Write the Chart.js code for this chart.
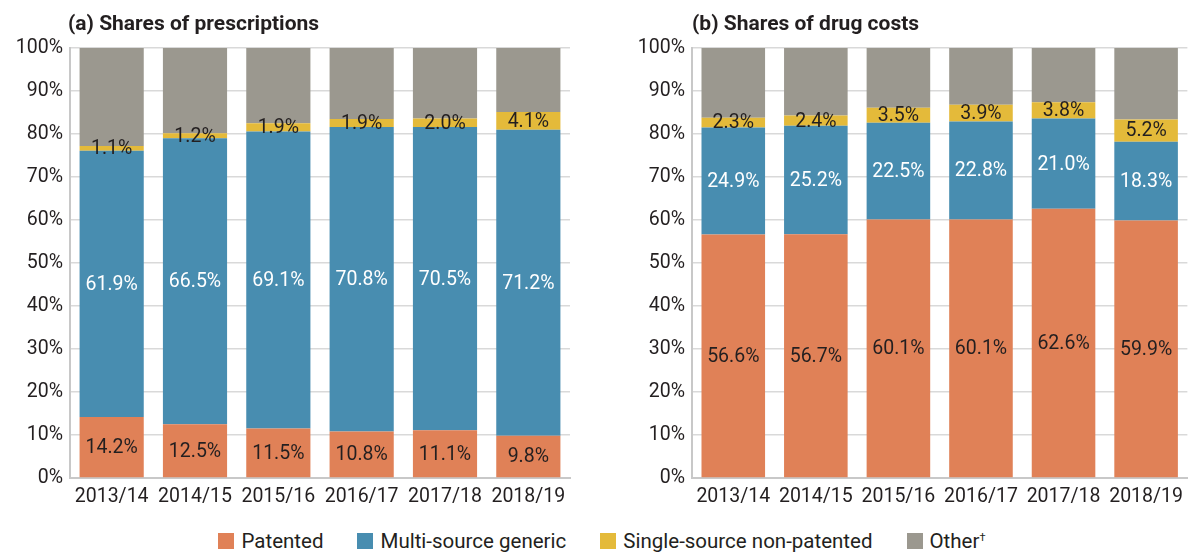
<!DOCTYPE html>
<html>
<head>
<meta charset="utf-8">
<script src="https://cdn.jsdelivr.net/npm/chart.js@4"></script>
<style>
  body { margin: 0; background: #fff; width: 1190px; height: 552px; position: relative; overflow: hidden; }
  #leftBox { position: absolute; left: 0; top: 0; }
  #rightBox { position: absolute; left: 620px; top: 0; }
  #legend { position: absolute; left: 0; top: 529px; width: 1204px; display: flex; justify-content: center;
            font-family: Roboto, sans-serif; font-size: 20.5px; color: #231f20; line-height: 24px; }
  .item { display: flex; align-items: center; margin: 0 17px; }
  .swatch { width: 16px; height: 16px; margin-right: 7px; }
  sup { font-size: 11px; position: relative; top: -3px; vertical-align: top; }
</style>
</head>
<body>
<div id="leftBox"><canvas id="rxChart" width="590" height="508"></canvas></div>
<div id="rightBox"><canvas id="costChart" width="570" height="508"></canvas></div>
<div id="legend"></div>
<script>
const categories = ['2013/14', '2014/15', '2015/16', '2016/17', '2017/18', '2018/19'];
const seriesNames = ['Patented', 'Multi-source generic', 'Single-source non-patented', 'Other'];
const seriesMarks = ['', '', '', '\u2020'];
const seriesColors = ['#e08157', '#488db0', '#e4ba3a', '#9b988f'];

// (a) shares of prescriptions, %
const rxPatented = [14.2, 12.5, 11.5, 10.8, 11.1, 9.8];
const rxMultiSource = [61.9, 66.5, 69.1, 70.8, 70.5, 71.2];
const rxSingleSource = [1.1, 1.2, 1.9, 1.9, 2.0, 4.1];
const rxOther = [22.8, 19.8, 17.5, 16.5, 16.4, 14.9];

// (b) shares of drug costs, %
const costPatented = [56.6, 56.7, 60.1, 60.1, 62.6, 59.9];
const costMultiSource = [24.9, 25.2, 22.5, 22.8, 21.0, 18.3];
const costSingleSource = [2.3, 2.4, 3.5, 3.9, 3.8, 5.2];
const costOther = [16.2, 15.7, 13.9, 13.2, 12.6, 16.6];

const textColor = '#231f20';
const labelColors = [textColor, '#ffffff', textColor, null];

// draws panel title and the % labels inside the segments
const panelPlugin = {
    id: 'panelTitle',
    afterDatasetsDraw(chart) {
        const ctx = chart.ctx;
        ctx.save();
        ctx.font = '19.5px Roboto';
        ctx.textAlign = 'center';
        ctx.textBaseline = 'middle';
        chart.data.datasets.forEach(function (ds, i) {
            if (!labelColors[i]) return;
            ctx.fillStyle = labelColors[i];
            chart.getDatasetMeta(i).data.forEach(function (bar, j) {
                const p = bar.getProps(['x', 'y', 'base'], true);
                ctx.fillText(ds.data[j].toFixed(1) + '%', p.x, (p.y + p.base) / 2 + 1);
            });
        });
        ctx.restore();
    },
    afterDraw(chart, args, opts) {
        const ctx = chart.ctx;
        ctx.save();
        ctx.font = 'bold 21px Roboto';
        ctx.fillStyle = textColor;
        ctx.textAlign = 'left';
        ctx.textBaseline = 'alphabetic';
        ctx.fillText(opts.text, chart.chartArea.left + opts.shift, 30);
        ctx.restore();
    }
};

function makeChart(canvasId, title, values, axisWidth, rightPad, shift) {
    const datasets = values.map(function (v, i) {
        return {
            label: seriesNames[i],
            data: v,
            backgroundColor: seriesColors[i],
            barPercentage: 0.77,
            categoryPercentage: 1.0
        };
    });
    return new Chart(document.getElementById(canvasId), {
        type: 'bar',
        data: { labels: categories, datasets: datasets },
        plugins: [panelPlugin],
        options: {
            responsive: false,
            animation: false,
            layout: { padding: { top: 48, right: rightPad, left: 0, bottom: 0 } },
            plugins: {
                legend: { display: false },
                tooltip: { enabled: false },
                panelTitle: { text: title, shift: shift }
            },
            scales: {
                x: {
                    stacked: true,
                    grid: { display: false, drawTicks: false },
                    border: { display: true, color: '#c8c8c8', width: 2 },
                    ticks: { color: textColor, font: { family: 'Roboto', size: 19.5 }, padding: 7, maxRotation: 0 },
                    afterFit: function (scale) { scale.height = 30; }
                },
                y: {
                    stacked: true,
                    min: 0,
                    max: 100,
                    grid: { color: '#d9d9d9', lineWidth: 1.5, drawTicks: false },
                    border: { display: true, color: '#c8c8c8', width: 2 },
                    ticks: {
                        stepSize: 10,
                        color: textColor,
                        font: { family: 'Roboto', size: 19.5 },
                        padding: 7,
                        callback: function (v) { return v + '%'; }
                    },
                    afterFit: function (scale) { scale.width = axisWidth; }
                }
            }
        }
    });
}

makeChart('rxChart', '(a) Shares of prescriptions',
    [rxPatented, rxMultiSource, rxSingleSource, rxOther], 70, 20, -2);
makeChart('costChart', '(b) Shares of drug costs',
    [costPatented, costMultiSource, costSingleSource, costOther], 72, 0, 0);

// shared legend under both panels
const legendBox = document.getElementById('legend');
seriesNames.forEach(function (name, i) {
    const item = document.createElement('div');
    item.className = 'item';
    const sw = document.createElement('span');
    sw.className = 'swatch';
    sw.style.background = seriesColors[i];
    const txt = document.createElement('span');
    txt.textContent = name;
    if (seriesMarks[i]) {
        const sup = document.createElement('sup');
        sup.textContent = seriesMarks[i];
        txt.appendChild(sup);
    }
    item.appendChild(sw);
    item.appendChild(txt);
    legendBox.appendChild(item);
});
</script>
</body>
</html>
